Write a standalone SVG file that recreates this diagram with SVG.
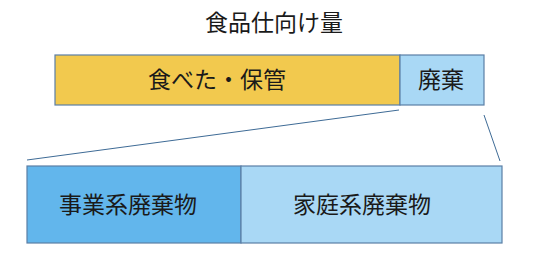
<svg xmlns="http://www.w3.org/2000/svg" width="557" height="253" viewBox="0 0 557 253">
<style>
.box{stroke:#5B7FA6;stroke-width:1.2}
.t{font-family:"Noto Sans CJK JP","Noto Sans CJK SC",sans-serif;font-size:23px;fill:#1a1a1a;text-anchor:middle}
.ln{stroke:#3E6B96;stroke-width:1;fill:none}
</style>
<rect width="557" height="253" fill="#ffffff"/>
<text class="t" x="274" y="31">食品仕向け量</text>
<g id="eaten">
<rect class="box" x="55" y="55" width="345" height="50" fill="#F2C94E"/>
<text class="t" x="217" y="88">食べた・保管</text>
</g>
<g id="waste">
<rect class="box" x="400" y="55" width="84" height="50" fill="#A9D8F5"/>
<text class="t" x="441" y="88">廃棄</text>
</g>
<g id="connectors">
<line class="ln" x1="399" y1="110" x2="27" y2="160"/>
<line class="ln" x1="484" y1="115" x2="500" y2="161"/>
</g>
<g id="business">
<rect class="box" x="27" y="166" width="214" height="77" fill="#62B6EC"/>
<text class="t" x="128" y="213">事業系廃棄物</text>
</g>
<g id="household">
<rect class="box" x="241" y="166" width="261" height="77" fill="#A9D8F5"/>
<text class="t" x="362" y="213">家庭系廃棄物</text>
</g>
</svg>
